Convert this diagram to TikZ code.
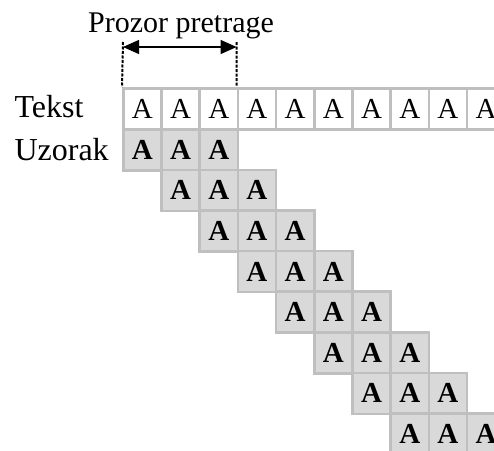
\documentclass[tikz,border=0pt]{standalone}
\usepackage{fontspec}
\setmainfont{Liberation Serif}
\usetikzlibrary{positioning,arrows.meta}
\definecolor{cellline}{HTML}{BFBFBF}
\definecolor{cellfill}{HTML}{D9D9D9}
\begin{document}
\begin{tikzpicture}[x=1pt, y=-1pt,
  every node/.style = {font=\fontsize{30}{34}\selectfont},
  label/.style = {anchor=base west, font=\fontsize{32}{36}\selectfont},
  cell/.style = {shape=rectangle, draw=cellline, line width=2.5pt,
    minimum width=38.2pt, minimum height=41pt, inner sep=0pt,
    anchor=north west, font=\fontsize{29}{32}\selectfont},
  patcell/.style = {cell, fill=cellfill,
    font=\fontsize{29}{32}\selectfont\bfseries},
  window/.style = {line width=2pt, dash pattern=on 3pt off 1.5pt}]
  \useasboundingbox (0,0) rectangle (494,450);
  % text row
  \foreach \i in {1,...,10}
    \node[cell] (t\i) at ({122+(\i-1)*38.2}, 87) {A};
  % pattern shifted one step per row
  \foreach \r in {0,...,7}
    \foreach \c in {0,1,2}
      \node[patcell] (p\r\c) at ({122+(\r+\c)*38.2}, {128+\r*40.6}) {A};
  \node[label] (tekst) at (11,117) {Tekst};
  \node[label] (uzorak) at (11,160) {Uzorak};
  % search window
  \coordinate (wl) at (123,42);
  \coordinate (wr) at (236.6,42);
  \draw[window] (wl) -- (t1.north west);
  \draw[window] (wr) -- (t4.north west);
  \draw[{Triangle[length=16pt,width=14pt]}-{Triangle[length=16pt,width=14pt]},
    line width=1.2pt] ([yshift=-5pt]wl) -- ([yshift=-5pt]wr);
  \node[anchor=base] (prozor) at (181,32) {Prozor pretrage};
\end{tikzpicture}
\end{document}
